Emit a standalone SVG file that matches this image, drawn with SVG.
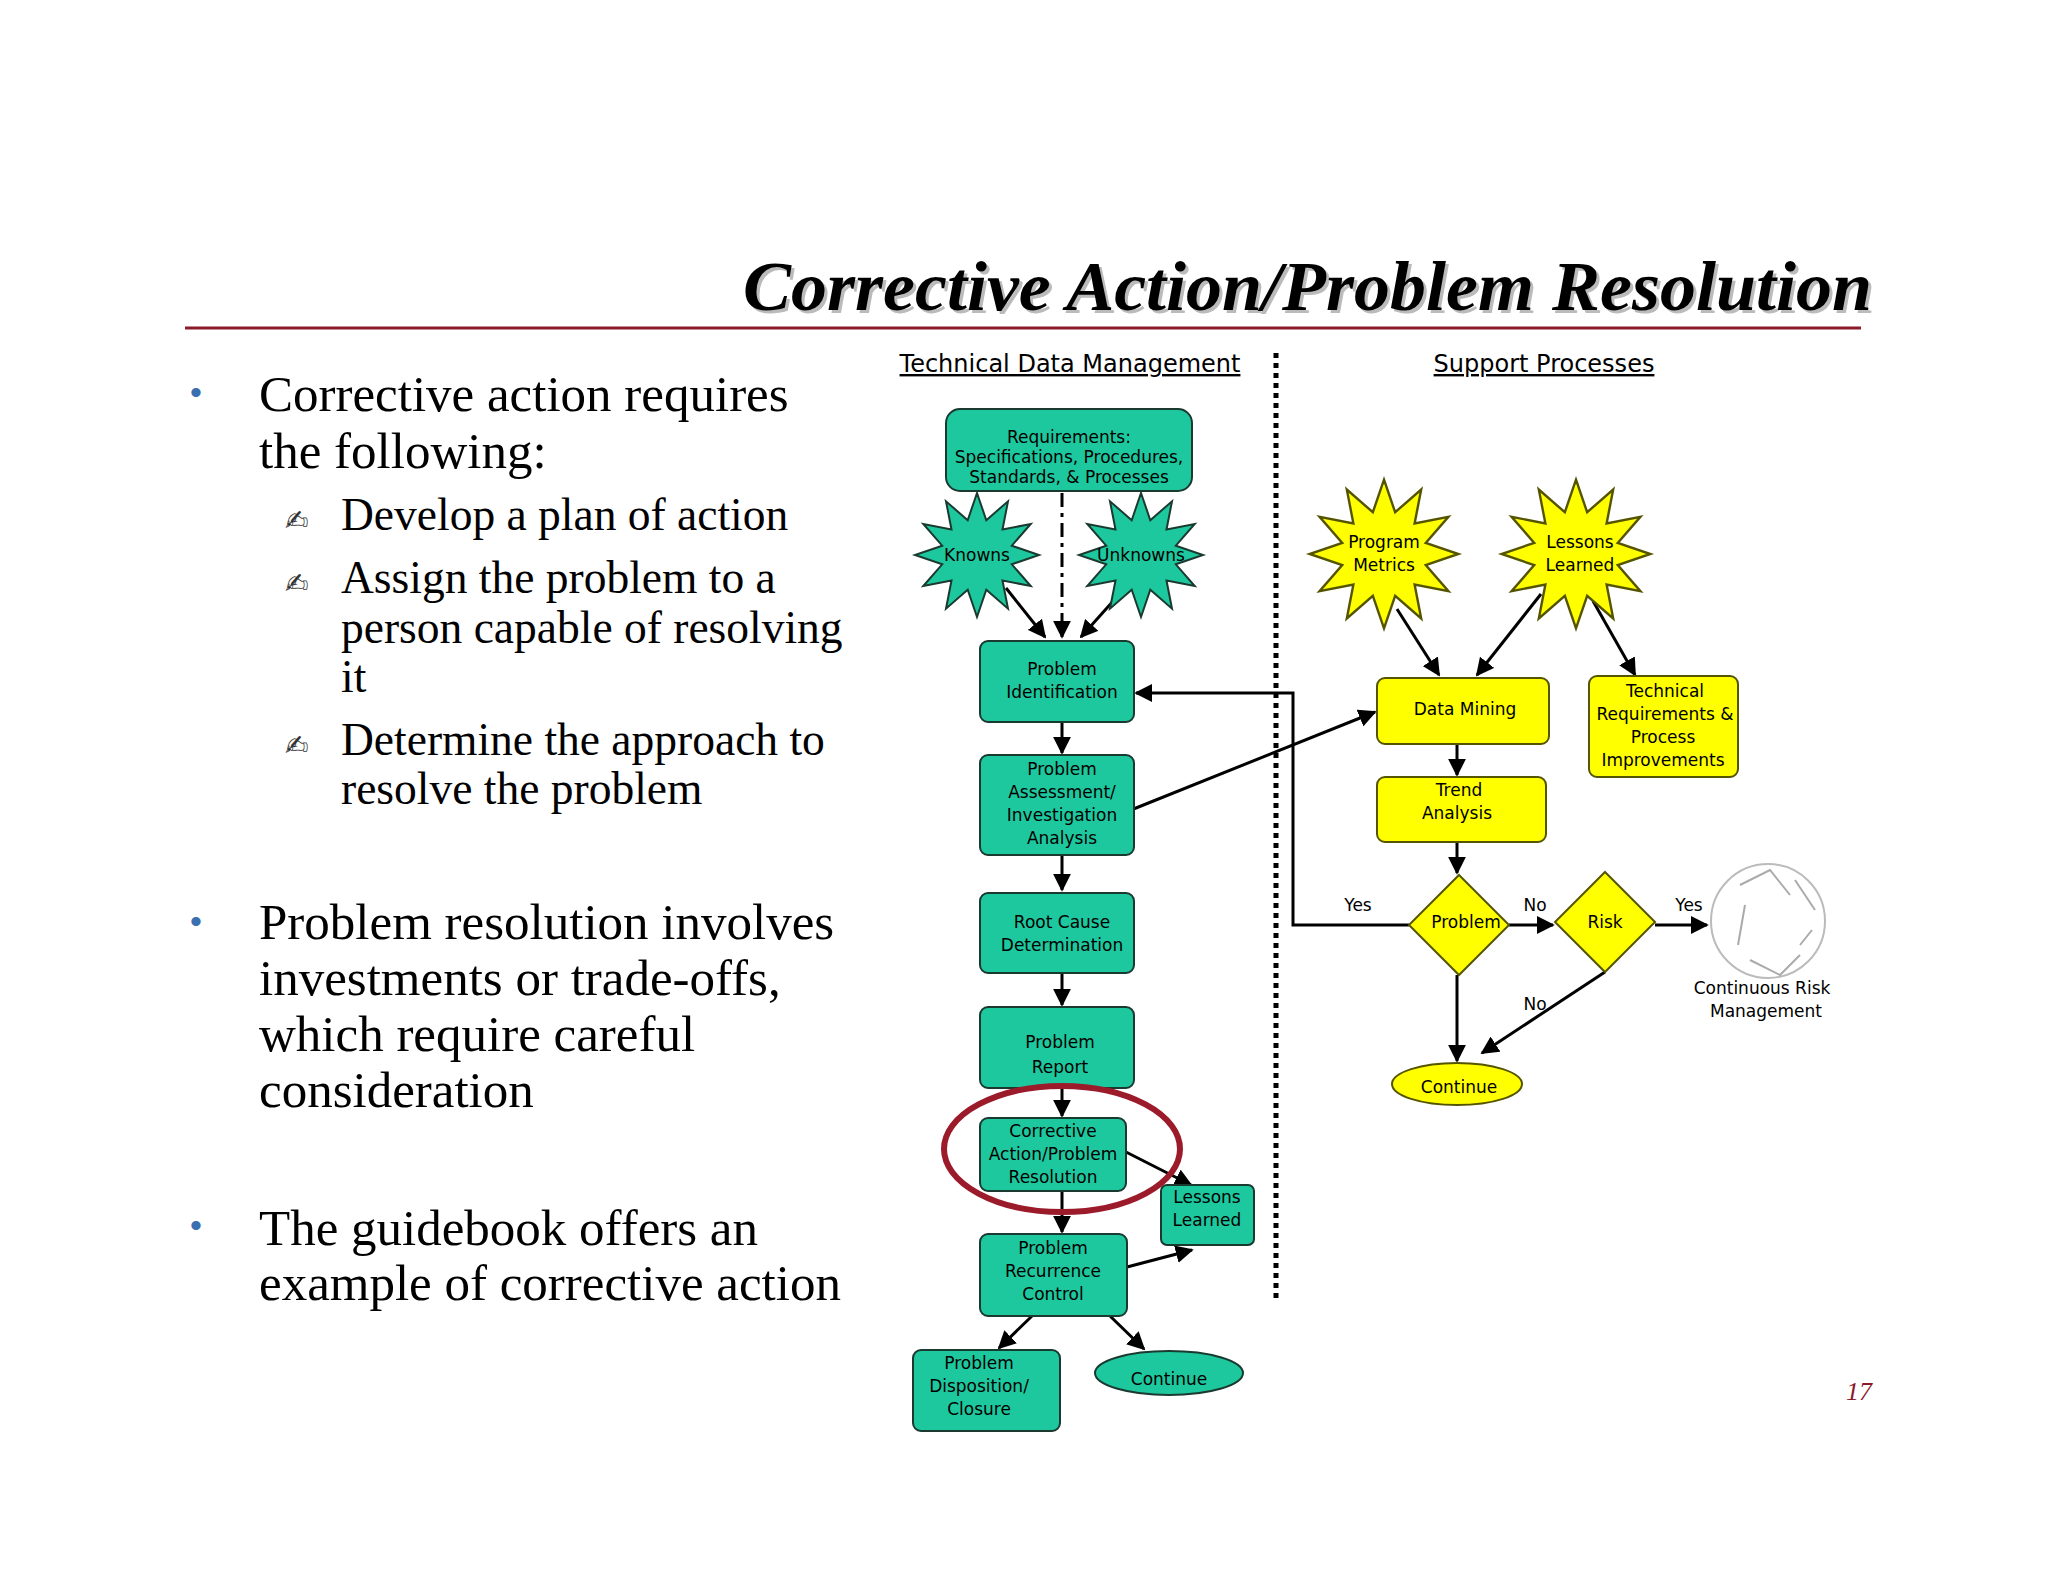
<svg xmlns="http://www.w3.org/2000/svg" width="2048" height="1582" viewBox="0 0 2048 1582">
<defs>
<style>
.bul{font-family:"Liberation Serif",serif;font-size:51px;fill:#000}
.sub{font-family:"Liberation Serif",serif;font-size:45.5px;fill:#000}
.dot{font-family:"Liberation Sans",sans-serif;font-size:34px;fill:#3a6fb0}
.pen{font-family:"DejaVu Sans",sans-serif;font-size:28px;fill:#333}
.hdr{font-family:"DejaVu Sans",sans-serif;font-size:24px;fill:#000;text-decoration:underline}
.t{font-family:"DejaVu Sans",sans-serif;font-size:17px;fill:#000;text-anchor:middle}
.g{fill:#1ec89e;stroke:#1a3a30;stroke-width:2}
.y{fill:#ffff00;stroke:#555500;stroke-width:2}
.ln{stroke:#000;stroke-width:3;fill:none;marker-end:url(#ah)}
.ttl{font-family:"Liberation Serif",serif;font-size:70px;font-weight:bold;font-style:italic}
</style>
<marker id="ah" viewBox="0 0 10 10" refX="9" refY="5" markerWidth="6" markerHeight="6" orient="auto" markerUnits="strokeWidth"><path d="M0,0L10,5L0,10z" fill="#000"/></marker>
<polygon id="star" points="0,-62 9.3,-34.8 31,-53.7 25.5,-25.5 53.7,-31 34.8,-9.3 62,0 34.8,9.3 53.7,31 25.5,25.5 31,53.7 9.3,34.8 0,62 -9.3,34.8 -31,53.7 -25.5,25.5 -53.7,31 -34.8,9.3 -62,0 -34.8,-9.3 -53.7,-31 -25.5,-25.5 -31,-53.7 -9.3,-34.8"/>
</defs>
<rect width="2048" height="1582" fill="#fff"/>
<text class="ttl" x="743" y="310" textLength="1129" lengthAdjust="spacingAndGlyphs" fill="#bbb" transform="translate(3,3)">Corrective Action/Problem Resolution</text>
<text class="ttl" x="743" y="310" textLength="1129" lengthAdjust="spacingAndGlyphs" fill="#000">Corrective Action/Problem Resolution</text>
<line x1="185" y1="328" x2="1861" y2="328" stroke="#8b1a2b" stroke-width="3"/>
<text class="dot" x="190" y="404">•</text>
<text class="bul" x="259" y="411">Corrective action requires</text>
<text class="bul" x="259" y="468">the following:</text>
<text class="pen" x="285" y="530">✍</text>
<text class="sub" x="341" y="530">Develop a plan of action</text>
<text class="pen" x="285" y="593">✍</text>
<text class="sub" x="341" y="593">Assign the problem to a</text>
<text class="sub" x="341" y="643">person capable of resolving</text>
<text class="sub" x="341" y="692">it</text>
<text class="pen" x="285" y="755">✍</text>
<text class="sub" x="341" y="755">Determine the approach to</text>
<text class="sub" x="341" y="804">resolve the problem</text>
<text class="dot" x="190" y="933">•</text>
<text class="bul" x="259" y="939">Problem resolution involves</text>
<text class="bul" x="259" y="995">investments or trade-offs,</text>
<text class="bul" x="259" y="1051">which require careful</text>
<text class="bul" x="259" y="1107">consideration</text>
<text class="dot" x="190" y="1237">•</text>
<text class="bul" x="259" y="1245">The guidebook offers an</text>
<text class="bul" x="259" y="1300">example of corrective action</text>
<text x="1872" y="1400" text-anchor="end" font-family="Liberation Serif,serif" font-size="26" font-style="italic" fill="#8b1a2b">17</text>

<text class="hdr" x="1070" y="372" text-anchor="middle">Technical Data Management </text>
<text class="hdr" x="1544" y="372" text-anchor="middle">Support Processes </text>
<line x1="1276" y1="353" x2="1276" y2="1303" stroke="#000" stroke-width="5" stroke-dasharray="5,5"/>

<g id="connectors">
<line class="ln" x1="1062" y1="493" x2="1062" y2="637" stroke-dasharray="14,6,4,6"/>
<line class="ln" x1="1006" y1="588" x2="1045" y2="637"/>
<line class="ln" x1="1123" y1="590" x2="1081" y2="637"/>
<line class="ln" x1="1062" y1="722" x2="1062" y2="753"/>
<line class="ln" x1="1062" y1="855" x2="1062" y2="890"/>
<line class="ln" x1="1062" y1="973" x2="1062" y2="1005"/>
<line class="ln" x1="1062" y1="1088" x2="1062" y2="1116"/>
<line class="ln" x1="1062" y1="1191" x2="1062" y2="1232"/>
<line class="ln" x1="1126" y1="1152" x2="1191" y2="1185"/>
<line class="ln" x1="1127" y1="1267" x2="1192" y2="1250"/>
<line class="ln" x1="1032" y1="1316" x2="999" y2="1348"/>
<line class="ln" x1="1110" y1="1316" x2="1144" y2="1349"/>
<line class="ln" x1="1131" y1="810" x2="1375" y2="712"/>
<line class="ln" x1="1397" y1="609" x2="1439" y2="675"/>
<line class="ln" x1="1541" y1="594" x2="1477" y2="675"/>
<line class="ln" x1="1593" y1="601" x2="1635" y2="675"/>
<line class="ln" x1="1457" y1="744" x2="1457" y2="775"/>
<line class="ln" x1="1457" y1="842" x2="1457" y2="873"/>
<polyline class="ln" points="1409,925 1293,925 1293,693 1136,693"/>
<line class="ln" x1="1509" y1="925" x2="1553" y2="925"/>
<line class="ln" x1="1655" y1="925" x2="1707" y2="925"/>
<line class="ln" x1="1457" y1="975" x2="1457" y2="1061"/>
<line class="ln" x1="1605" y1="972" x2="1482" y2="1053"/>
</g>

<g id="requirements"><rect class="g" x="946" y="409" width="246" height="82" rx="14"/>
<text class="t" x="1069" y="443">Requirements:</text><text class="t" x="1069" y="463">Specifications, Procedures,</text><text class="t" x="1069" y="483">Standards, &amp; Processes</text></g>
<g id="knowns"><use href="#star" class="g" transform="translate(977,555)"/><text class="t" x="977" y="561">Knowns</text></g>
<g id="unknowns"><use href="#star" class="g" transform="translate(1141,555)"/><text class="t" x="1141" y="561">Unknowns</text></g>
<g id="programMetrics"><use href="#star" class="y" transform="translate(1384,554) scale(1.2)"/><text class="t" x="1384" y="548">Program</text><text class="t" x="1384" y="571">Metrics</text></g>
<g id="lessonsStar"><use href="#star" class="y" transform="translate(1576,554) scale(1.2)"/><text class="t" x="1580" y="548">Lessons</text><text class="t" x="1580" y="571">Learned</text></g>
<g id="problemId"><rect class="g" x="980" y="641" width="154" height="81" rx="8"/><text class="t" x="1062" y="675">Problem</text><text class="t" x="1062" y="698">Identification</text></g>
<g id="problemAssess"><rect class="g" x="980" y="755" width="154" height="100" rx="8"/><text class="t" x="1062" y="775">Problem</text><text class="t" x="1062" y="798">Assessment/</text><text class="t" x="1062" y="821">Investigation</text><text class="t" x="1062" y="844">Analysis</text></g>
<g id="rootCause"><rect class="g" x="980" y="893" width="154" height="80" rx="8"/><text class="t" x="1062" y="928">Root Cause</text><text class="t" x="1062" y="951">Determination</text></g>
<g id="problemReport"><rect class="g" x="980" y="1007" width="154" height="81" rx="8"/><text class="t" x="1060" y="1048" font-size="19">Problem</text><text class="t" x="1060" y="1073" font-size="19">Report</text></g>
<g id="corrective"><rect class="g" x="980" y="1118" width="146" height="73" rx="8"/><text class="t" x="1053" y="1137">Corrective</text><text class="t" x="1053" y="1160">Action/Problem</text><text class="t" x="1053" y="1183">Resolution</text></g>
<g id="lessonsSmall"><rect class="g" x="1161" y="1185" width="93" height="60" rx="6"/><text class="t" x="1207" y="1203">Lessons</text><text class="t" x="1207" y="1226">Learned</text></g>
<g id="recurrence"><rect class="g" x="980" y="1234" width="147" height="82" rx="8"/><text class="t" x="1053" y="1254">Problem</text><text class="t" x="1053" y="1277">Recurrence</text><text class="t" x="1053" y="1300">Control</text></g>
<g id="disposition"><rect class="g" x="913" y="1350" width="147" height="81" rx="8"/><text class="t" x="979" y="1369">Problem</text><text class="t" x="979" y="1392">Disposition/</text><text class="t" x="979" y="1415">Closure</text></g>
<g id="continueGreen"><ellipse class="g" cx="1169" cy="1373" rx="74" ry="22"/><text class="t" x="1169" y="1385">Continue</text></g>
<ellipse cx="1062" cy="1149" rx="118" ry="63" fill="none" stroke="#9b1b2b" stroke-width="6"/>
<g id="dataMining"><rect class="y" x="1377" y="678" width="172" height="66" rx="8"/><text class="t" x="1465" y="715">Data Mining</text></g>
<g id="techReq"><rect class="y" x="1589" y="676" width="149" height="101" rx="8"/><text class="t" x="1665" y="697">Technical</text><text class="t" x="1665" y="720">Requirements &amp;</text><text class="t" x="1663" y="743">Process</text><text class="t" x="1663" y="766">Improvements</text></g>
<g id="trend"><rect class="y" x="1377" y="777" width="169" height="65" rx="8"/><text class="t" x="1459" y="796">Trend</text><text class="t" x="1457" y="819">Analysis</text></g>
<g id="problemDiamond"><polygon class="y" points="1459,875 1509,925 1459,975 1409,925"/><text class="t" x="1466" y="928">Problem</text></g>
<g id="riskDiamond"><polygon class="y" points="1605,872 1655,922 1605,972 1555,922"/><text class="t" x="1605" y="928">Risk</text></g>
<g id="continueYellow"><ellipse class="y" cx="1457" cy="1084" rx="65" ry="21"/><text class="t" x="1459" y="1093">Continue</text></g>
<g id="crm"><circle cx="1768" cy="921" r="57" fill="none" stroke="#bbb" stroke-width="2"/>
<path d="M1740,885 L1770,870 L1790,895 M1795,880 L1815,910 M1745,905 L1738,945 M1750,960 L1780,975 L1800,955 M1800,945 L1812,930" stroke="#aaa" stroke-width="2" fill="none"/>
<text class="t" x="1762" y="994">Continuous Risk</text><text class="t" x="1766" y="1017">Management</text></g>
<text class="t" x="1358" y="911">Yes</text>
<text class="t" x="1535" y="911">No</text>
<text class="t" x="1689" y="911">Yes</text>
<text class="t" x="1535" y="1010">No</text>
</svg>
